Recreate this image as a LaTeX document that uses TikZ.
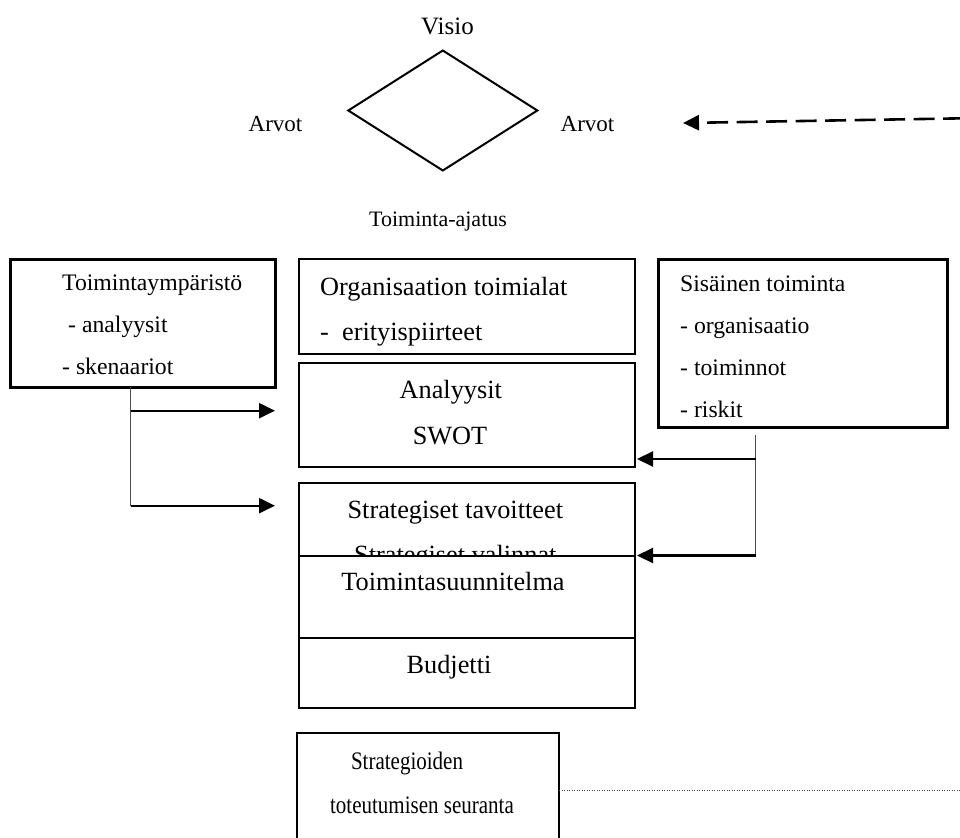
\documentclass[tikz,border=0pt]{standalone}
\usepackage{fontspec}
\setmainfont{Liberation Serif}
\usetikzlibrary{arrows.meta,shapes.geometric}

\tikzset{
  sidebox/.style={draw, line width=3pt, inner sep=0pt, outer sep=0pt, anchor=north west},
  midbox/.style={draw, line width=2.2pt, inner sep=0pt, outer sep=0pt, anchor=north west, fill=white},
  feed/.style={line width=2.2pt, -{Triangle[length=16pt,width=15pt]}},
  trunk/.style={line width=1.1pt, draw=black!70},
  sidetext/.style={anchor=base west, inner sep=0pt, font={\fontsize{23.7}{28}\selectfont}},
  midtext/.style={anchor=base, inner sep=0pt, font={\fontsize{26.3}{30}\selectfont}},
  midtextl/.style={anchor=base west, inner sep=0pt, font={\fontsize{26.3}{30}\selectfont}},
  lowtext/.style={anchor=base, inner sep=0pt, font={\fontsize{21}{25}\selectfont}},
}

\begin{document}
\begin{tikzpicture}[x=1pt,y=-1pt]
\useasboundingbox (0,0) rectangle (960,837);

% vision diamond with its labels
\node[draw, diamond, line width=2pt, inner sep=0pt, outer sep=0pt,
      minimum width=189pt, minimum height=120pt] (vision) at (442.8,110.5) {};
\node[anchor=base, inner sep=0pt, font={\fontsize{25}{30}\selectfont}] (visio) at (447.5,35) {Visio};
\node[anchor=base, inner sep=0pt, font={\fontsize{23}{28}\selectfont}] (arvotL) at (275.5,131.7) {Arvot};
\node[anchor=base, inner sep=0pt, font={\fontsize{23}{28}\selectfont}] (arvotR) at (587.5,131.7) {Arvot};
\node[anchor=base, inner sep=0pt, font={\fontsize{22}{26}\selectfont}] (idea) at (438,226) {Toiminta-ajatus};

% feedback from the right edge
\coordinate (dashstart) at (964,118.3);
\coordinate (dashend) at (683,123);
\draw[line width=2.6pt, dash pattern=on 21pt off 8.5pt,
      -{Triangle[length=16pt,width=15pt]}] (dashstart) -- (dashend);

% operating environment
\node[sidebox, minimum width=265pt, minimum height=128pt] (env) at (10,259) {};
\node[sidetext] (envT) at (62,290.7) {Toimintaympäristö};
\node[sidetext] (envA) at (68,332.7) {- analyysit};
\node[sidetext] (envS) at (62,374.7) {- skenaariot};

% internal operations
\node[sidebox, minimum width=289pt, minimum height=168pt] (inner) at (658,259) {};
\node[sidetext] (innT) at (680,291.7) {Sisäinen toiminta};
\node[sidetext] (innO) at (680,333.7) {- organisaatio};
\node[sidetext] (innF) at (680,375.7) {- toiminnot};
\node[sidetext] (innR) at (680,417.2) {- riskit};

% central column
\node[midbox, minimum width=336pt, minimum height=95pt] (org) at (299,259) {};
\node[midtextl] (orgT) at (320,295) {Organisaation toimialat};
\node[midtextl] (orgS) at (320,340) {- \ erityispiirteet};

\node[midbox, minimum width=336pt, minimum height=104pt] (ana) at (299,363) {};
\node[midtext] (anaT) at (450.8,398.3) {Analyysit};
\node[midtext] (anaS) at (450,444.5) {SWOT};

\node[midbox, minimum width=336pt, minimum height=90pt] (strat) at (299,483) {};
\node[midtext] (stratT) at (455.3,518.3) {Strategiset tavoitteet};
\node[midtext] (stratV) at (455.3,563.5) {Strategiset valinnat};

\node[midbox, minimum width=336pt, minimum height=82pt] (plan) at (299,556) {};
\node[midtext] (planT) at (453,590) {Toimintasuunnitelma};

\node[midbox, minimum width=336pt, minimum height=70pt] (budget) at (299,638) {};
\node[midtext] (budgetT) at (449,673.3) {Budjetti};

% follow-up box, running past the lower edge
\node[midbox, minimum width=262pt, minimum height=130pt] (follow) at (297,733) {};
\node[lowtext] (follow1) at (407,769) {\scalebox{1}[1.2]{Strategioiden}};
\node[lowtext] (follow2) at (422,813) {\scalebox{1}[1.2]{toteutumisen seuranta}};

\coordinate (dotend) at (962,790.7);
\draw[line width=0.9pt, draw=black!70, dash pattern=on 1.4pt off 1.1pt]
  (follow.north east |- dotend) -- (dotend);

% connectors from the environment box
\coordinate (lj0) at (130.7,387);
\coordinate (lj1) at (130.7,410.7);
\coordinate (lj2) at (130.7,505.7);
\draw[trunk] (lj0) -- (lj2);
\draw[feed] (lj1) -- ([xshift=-24pt]ana.west |- lj1);
\draw[feed] (lj2) -- ([xshift=-24pt]strat.west |- lj2);

% connectors from the internal operations box
\coordinate (rj0) at (755.7,435);
\coordinate (rj1) at (755.7,459);
\coordinate (rj2) at (755.7,555.5);
\draw[trunk] (rj0) -- (rj2);
\draw[feed] (rj1) -- ([xshift=2pt]ana.east |- rj1);
\draw[feed] (rj2) -- ([xshift=2pt]strat.east |- rj2);
\end{tikzpicture}
\end{document}
